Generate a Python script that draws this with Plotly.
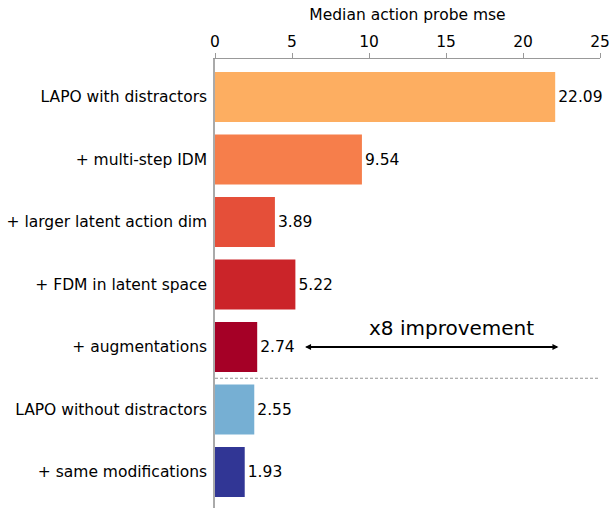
import plotly.graph_objects as go

categories = ["LAPO with distractors", "+ multi-step IDM", "+ larger latent action dim",
              "+ FDM in latent space", "+ augmentations", "LAPO without distractors",
              "+ same modifications"]
values = [22.09, 9.54, 3.89, 5.22, 2.74, 2.55, 1.93]
colors = ["#fdae61", "#f67e4b", "#e54f39", "#cb2429", "#a50026", "#76afd3", "#313695"]
tick_vals = [0, 5, 10, 15, 20, 25]

FONT = "DejaVu Sans"
FS = 15.5

fig = go.Figure(go.Bar(
    x=values, y=categories, orientation="h",
    marker=dict(color=colors, line=dict(width=0)),
    text=[f"{v:.2f}" for v in values], textposition="outside",
    textfont=dict(family=FONT, size=FS, color="black"),
    cliponaxis=False, width=0.8, hoverinfo="skip",
))

fig.update_layout(
    width=611, height=508,
    margin=dict(l=215, r=11, t=59, b=0),
    plot_bgcolor="white", paper_bgcolor="white",
    font=dict(family=FONT, size=FS, color="black"),
    showlegend=False,
    xaxis=dict(side="top", range=[0, 25], tickvals=tick_vals, showgrid=False,
               zeroline=False, showline=True, linecolor="#999999", linewidth=1,
               ticks="outside", ticklen=5, tickcolor="#999999", automargin=False,
               title=dict(text="Median action probe mse", standoff=8,
                          font=dict(family=FONT, size=FS))),
    yaxis=dict(range=[6.576, -0.608], showgrid=False, zeroline=False,
               showline=True, linecolor="#aaaaaa", linewidth=1.5, automargin=False,
               ticks="", ticklabelstandoff=3),
    shapes=[dict(type="line", xref="paper", x0=0, x1=1, yref="y", y0=4.5, y1=4.5,
                 line=dict(color="#666666", width=0.7, dash="3px,2px"))],
    annotations=[
        dict(x=22.3, y=4, ax=5.75, ay=4, xref="x", yref="y", axref="x", ayref="y",
             text="", showarrow=True, arrowhead=2, startarrowhead=2,
             arrowside="end+start", arrowsize=0.6, arrowwidth=2, arrowcolor="black"),
        dict(x=15.35, y=3.69, xref="x", yref="y", text="x8 improvement", showarrow=False,
             font=dict(family=FONT, size=20, color="black")),
    ],
)

fig.write_html("out.html", config={"displayModeBar": False},
               post_script="document.body.style.margin='0px';document.body.style.overflow='hidden';")
